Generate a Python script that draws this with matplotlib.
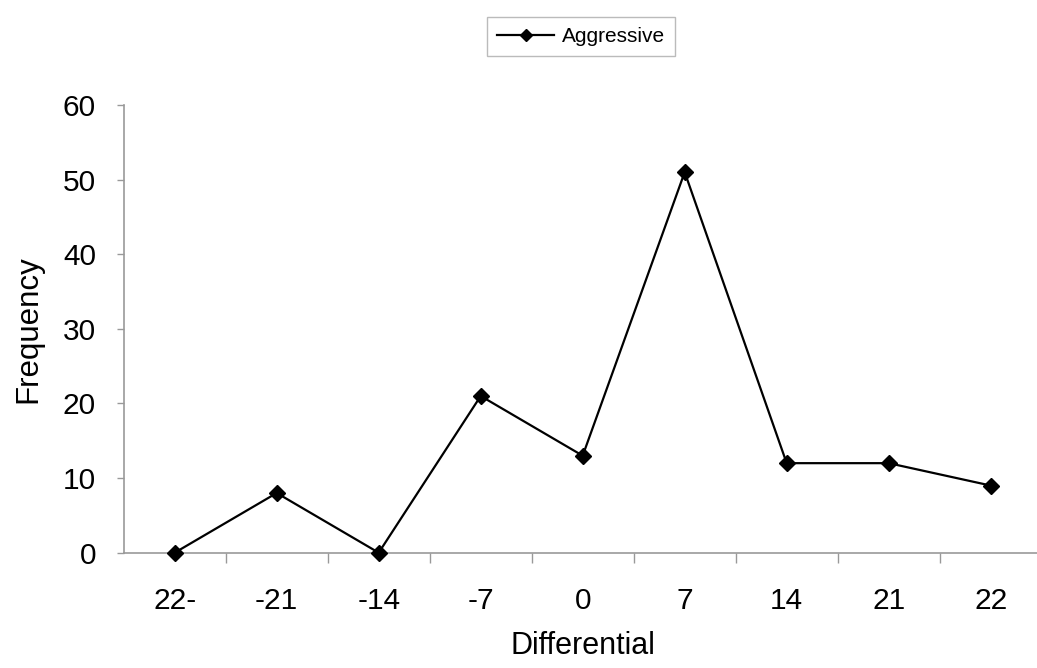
import matplotlib
matplotlib.use("Agg")
import matplotlib.pyplot as plt

categories = ["22-", "-21", "-14", "-7", "0", "7", "14", "21", "22"]
aggressive = [0, 8, 0, 21, 13, 51, 12, 12, 9]
yticks = [0, 10, 20, 30, 40, 50, 60]

plt.rcParams['font.family'] = ['Liberation Sans', 'DejaVu Sans']

fig = plt.figure(figsize=(10.37, 6.68), dpi=100)
ax = fig.add_axes([0.1193, 0.1726, 0.8852, 0.6702])

x = list(range(len(categories)))
line, = ax.plot(x, aggressive, color='black', linewidth=1.6, marker='D',
                markersize=8, markerfacecolor='black', markeredgecolor='black',
                label='Aggressive', clip_on=False, zorder=5)

ax.set_xlim(-0.5, len(categories) - 0.5)
ax.set_ylim(0, 60)
ax.set_yticks(yticks)
ax.set_yticklabels([str(v) for v in yticks], fontsize=21.5)
ax.set_xticks(x)
ax.set_xticklabels(categories, fontsize=21.5)
ax.tick_params(axis='x', which='major', length=0, pad=25)
ax.set_xticks([i - 0.5 for i in range(1, len(categories))], minor=True)
ax.tick_params(axis='x', which='minor', length=7, color='#999999', width=1, direction='out')
ax.tick_params(axis='y', length=5, color='#999999', width=1, direction='out', pad=15)

for side in ['top', 'right']:
    ax.spines[side].set_visible(False)
for side in ['left', 'bottom']:
    ax.spines[side].set_color('#999999')
    ax.spines[side].set_linewidth(1.2)

ax.set_xlabel('Differential', fontsize=22, labelpad=11)
ax.set_ylabel('Frequency', fontsize=22.5, labelpad=14)

leg = fig.legend(handles=[line], loc='center', bbox_to_anchor=(581 / 1037, 1 - 36.5 / 668),
                 fontsize=15, frameon=True, fancybox=False, edgecolor='#aaaaaa',
                 handlelength=2.75, handletextpad=0.35, borderpad=0.5, markerscale=0.8)
leg.get_frame().set_linewidth(1.0)

fig.savefig('out.png', dpi=100)
